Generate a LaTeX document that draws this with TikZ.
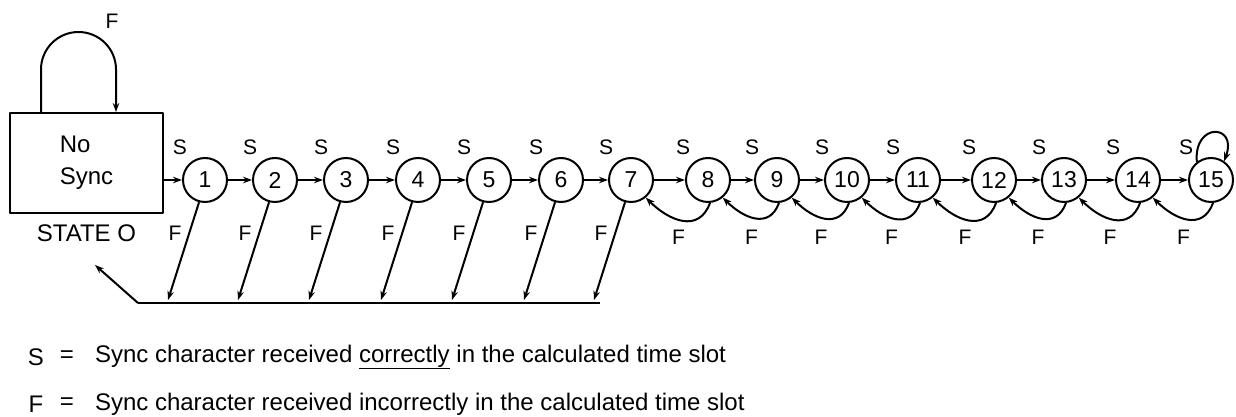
\documentclass[tikz,border=0pt]{standalone}
\usepackage{fontspec}
\setmainfont{Liberation Sans}
\usetikzlibrary{arrows.meta,calc}
\begin{document}
\begin{tikzpicture}[x=1pt, y=1pt, line width=2pt, line join=round, >={Stealth[length=9pt,width=6.5pt]},
    state/.style={draw, circle, minimum size=44pt, inner sep=0pt, font=\fontsize{23}{23}\selectfont},
    lbl/.style={inner sep=0pt, font=\fontsize{21}{21}\selectfont},
    key/.style={inner sep=0pt, font=\fontsize{24}{24}\selectfont}]
    \useasboundingbox (0,0) rectangle (1236,417);
    % state 0 and its loop
    \node[draw, minimum width=153pt, minimum height=100pt, align=left, font=\fontsize{24}{24}\selectfont] (s0) at (86.5,254) {No\\[8pt]Sync};
    \node[inner sep=0pt, font=\fontsize{24}{24}\selectfont] (st0) at ([yshift=-19pt]s0.south) {STATE O};
    \draw[->] ([xshift=32pt]s0.north west) -- ++(0,42.5) arc[start angle=180, end angle=0, radius=37.5] -- ([xshift=107pt]s0.north west);
    \node[lbl] (fl0) at (112,396) {F};
    % states 1 to 15
    \foreach \x [count=\i] in {205,275,346,418,489,561,631,708,777,847,918,994,1064,1138,1211}
        \node[state] (s\i) at (\x,237) {\i};
    \foreach \i in {1,...,15}
        \node[lbl] (sl\i) at ([shift={(-25,33)}]s\i.center) {S};
    \draw[->] (s0.east |- s1) -- (s1);
    \foreach \i [evaluate=\i as \j using int(\i+1)] in {1,...,14}
        \draw[->] (s\i) -- (s\j);
    \draw[->] (s15.128) .. controls +(95:40) and +(70:40) .. (s15.55);
    % F back to state 0
    \coordinate (bl) at (138,114);
    \coordinate (br) at (600,114);
    \coordinate (ret) at (95,152);
    \foreach \i in {1,...,7} {
        \coordinate (b\i) at ([shift={(-37,-120)}]s\i.center);
        \draw[->] (s\i.-105) -- (b\i);
        \node[lbl] (fl\i) at ([shift={(-30,-53)}]s\i.center) {F};
    }
    \draw (bl) -- (br);
    \draw[->] (bl) -- (ret);
    % F back one step
    \foreach \i [evaluate=\i as \j using int(\i+1)] in {7,...,14} {
        \draw[->] (s\j.-85) to[out=-110, in=-45, looseness=1.3] (s\i.-50);
        \node[lbl] (fr\i) at ($(s\i)!0.5!(s\j)+(9,-57)$) {F};
    }
    % key
    \node[key] (ks) at (36,60) {S};
    \node[key] (ke1) at (67,60) {=};
    \node[key, anchor=west] (kt1) at (94,60) {Sync character received \underline{correctly} in the calculated time slot};
    \node[key] (kf) at (36,13) {F};
    \node[key] (ke2) at (67,13) {=};
    \node[key, anchor=west] (kt2) at (94,13) {Sync character received incorrectly in the calculated time slot};
\end{tikzpicture}
\end{document}
